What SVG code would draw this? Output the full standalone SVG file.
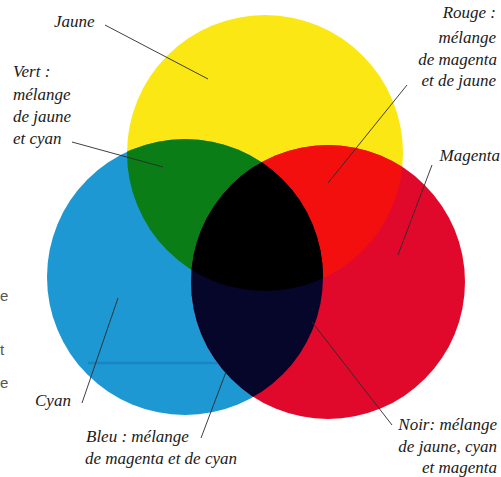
<svg xmlns="http://www.w3.org/2000/svg" width="501" height="477" viewBox="0 0 501 477">
<style>
.lbl{font-family:"Liberation Serif","Times New Roman",serif;font-style:italic;font-size:17px;fill:#1a1a1a}
.r{text-anchor:end}
.ld{stroke:#2a2a2a;stroke-width:0.9;fill:none}
.bg{font-family:"Liberation Sans",Arial,sans-serif;font-size:15px;fill:#555}
</style>
<defs>
<clipPath id="cY"><circle cx="265" cy="153" r="138"/></clipPath>
<clipPath id="cC"><circle cx="185" cy="277" r="138"/></clipPath>
</defs>
<rect width="501" height="477" fill="#fff"/>
<g id="bgtext">
<text class="bg" x="0" y="301">e</text>
<text class="bg" x="0" y="355">t</text>
<text class="bg" x="0" y="388">e</text>
</g>
<g id="jaune"><circle cx="265" cy="153" r="138" fill="#fae714"/></g>
<g id="cyan"><circle cx="185" cy="277" r="138" fill="#1e98d3"/>
<line x1="88" y1="363" x2="235" y2="363" stroke="#1670b4" stroke-width="2.5" opacity="0.45"/></g>
<g id="magenta"><circle cx="328" cy="282" r="137" fill="#e1092b"/></g>
<g id="vert" clip-path="url(#cY)"><circle cx="185" cy="277" r="138" fill="#0b7d17"/></g>
<g id="rouge" clip-path="url(#cY)"><circle cx="328" cy="282" r="137" fill="#f40f0f"/></g>
<g id="bleu" clip-path="url(#cC)"><circle cx="328" cy="282" r="137" fill="#06052a"/></g>
<g id="noir" clip-path="url(#cY)"><g clip-path="url(#cC)"><circle cx="328" cy="282" r="137" fill="#000"/></g></g>
<g id="connectors">
<line class="ld" x1="105" y1="25" x2="208" y2="79"/>
<line class="ld" x1="72" y1="142" x2="163" y2="167"/>
<line class="ld" x1="407" y1="85" x2="328" y2="183"/>
<line class="ld" x1="432" y1="165" x2="398" y2="255"/>
<line class="ld" x1="82" y1="403" x2="118" y2="298"/>
<line class="ld" x1="201" y1="438" x2="226" y2="372"/>
<line class="ld" x1="392" y1="425" x2="312" y2="322"/>
</g>
<g id="labels">
<text class="lbl" x="54" y="27">Jaune</text>
<text class="lbl" x="13" y="77">Vert :</text>
<text class="lbl" x="13" y="100">mélange</text>
<text class="lbl" x="13" y="122">de jaune</text>
<text class="lbl" x="13" y="144">et cyan</text>
<text class="lbl r" x="496" y="18">Rouge :</text>
<text class="lbl r" x="496" y="43">mélange</text>
<text class="lbl r" x="497" y="65">de magenta</text>
<text class="lbl r" x="496" y="86">et de jaune</text>
<text class="lbl r" x="500" y="161">Magenta</text>
<text class="lbl" x="35" y="406">Cyan</text>
<text class="lbl" x="86" y="442">Bleu : mélange</text>
<text class="lbl" x="85" y="464">de magenta et de cyan</text>
<text class="lbl r" x="497" y="430">Noir: mélange</text>
<text class="lbl r" x="497" y="452">de jaune, cyan</text>
<text class="lbl r" x="497" y="473">et magenta</text>
</g>
</svg>
